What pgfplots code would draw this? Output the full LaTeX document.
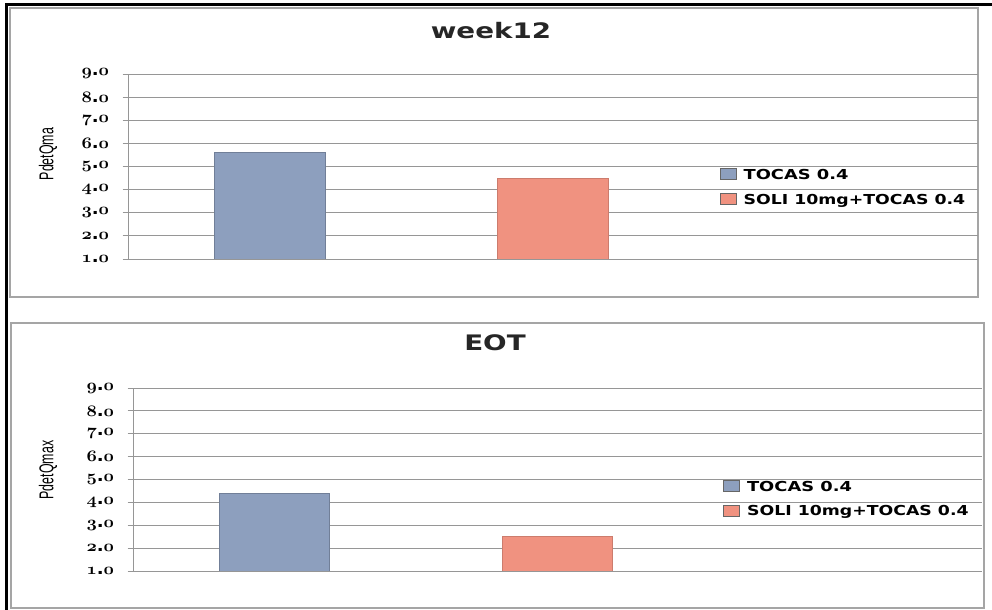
\documentclass[border=0pt]{standalone}
\usepackage{pgfplots}
\pgfplotsset{compat=1.18}
\usepackage{fontspec}
\setmainfont{DejaVu Sans}
\newfontfamily\narrowfont{Liberation Sans}

\definecolor{barblue}{RGB}{141,159,190}
\definecolor{barred}{RGB}{240,146,128}
\definecolor{gridgray}{RGB}{150,150,150}
\definecolor{framegray}{RGB}{165,165,165}

% old-style bold figures for the value axis
\newcommand\osn[1]{{\usefont{OML}{cmm}{b}{it}#1}}
\newcommand\tl[1]{\scalebox{1.35}[1.2]{\osn{#1}\textbf{.}\osn{0}}}
\newcommand\wide[1]{\scalebox{1.3}[1]{#1}}

\pgfplotsset{
  panel/.style={
    scale only axis,
    xmin=-0.5, xmax=2.5, ymin=1, ymax=9,
    ytick={1,2,3,4,5,6,7,8,9},
    yticklabels={\tl1,\tl2,\tl3,\tl4,\tl5,\tl6,\tl7,\tl8,\tl9},
    yticklabel style={font=\fontsize{10}{12}\selectfont, inner sep=0pt, xshift=-10pt},
    xtick=\empty,
    axis x line=none,
    axis y line*=left,
    y axis line style={gridgray, line width=0.6pt},
    ytick style={gridgray, line width=0.6pt},
    tick align=outside,
    major tick length=4pt,
    ymajorgrids,
    grid style={gridgray, line width=0.6pt},
    ybar, bar width=0.39, bar shift=0pt,
    legend cell align=left,
    legend style={draw=none, fill=none, inner sep=0pt, row sep=5.5pt, column sep=3pt,
      font=\fontsize{10.3}{12}\selectfont\bfseries},
    legend image code/.code={%
      \draw[#1, draw=black!60, line width=0.8pt] (0pt,-0.35em) rectangle (1.2em,0.5em);},
  }
}

\begin{document}
\begin{tikzpicture}[x=0.75pt,y=0.75pt]
\path[use as bounding box] (0,0) rectangle (992,610);

% panel frames
\draw[framegray, line width=0.9pt] (10,602) rectangle (978,313);
\draw[framegray, line width=0.9pt] (11,287) rectangle (984,2);
% outer page edge
\draw[black, line width=2.25pt] (5,605) -- (992,605);
\draw[black, line width=2.25pt] (6,606) -- (6,0);

% titles and value-axis labels
\node[font=\fontsize{16}{16}\selectfont\bfseries, text=black!85] at (491,579) {\wide{week12}};
\node[font=\fontsize{16}{16}\selectfont\bfseries, text=black!85] at (495,267) {\wide{EOT}};
\node[rotate=90, font=\narrowfont\fontsize{15}{15}\selectfont] at (48,456) {\scalebox{0.62}[1]{PdetQma}};
\node[rotate=90, font=\narrowfont\fontsize{15}{15}\selectfont] at (48,140) {\scalebox{0.62}[1]{PdetQmax}};

% week 12
\begin{axis}[panel, at={(96pt,263.25pt)}, anchor=south west,
  width=637.5pt, height=138.75pt,
  legend style={at={(rel axis cs:0.696,0.386)}, anchor=west}]
\addplot[fill=barblue, draw=barblue!80!black] coordinates {(0,5.6)};
\addlegendentry{\wide{TOCAS 0.4}}
\addplot[fill=barred, draw=barred!85!black] coordinates {(1,4.5)};
\addlegendentry{\scalebox{0.97}[1]{\wide{SOLI 10mg+TOCAS 0.4}}}
\end{axis}

% end of treatment
\begin{axis}[panel, at={(99.75pt,29.25pt)}, anchor=south west,
  width=636.75pt, height=137.25pt,
  legend style={at={(rel axis cs:0.695,0.391)}, anchor=west}]
\addplot[fill=barblue, draw=barblue!80!black] coordinates {(0,4.4)};
\addlegendentry{\wide{TOCAS 0.4}}
\addplot[fill=barred, draw=barred!85!black] coordinates {(1,2.5)};
\addlegendentry{\scalebox{0.97}[1]{\wide{SOLI 10mg+TOCAS 0.4}}}
\end{axis}
\end{tikzpicture}
\end{document}
